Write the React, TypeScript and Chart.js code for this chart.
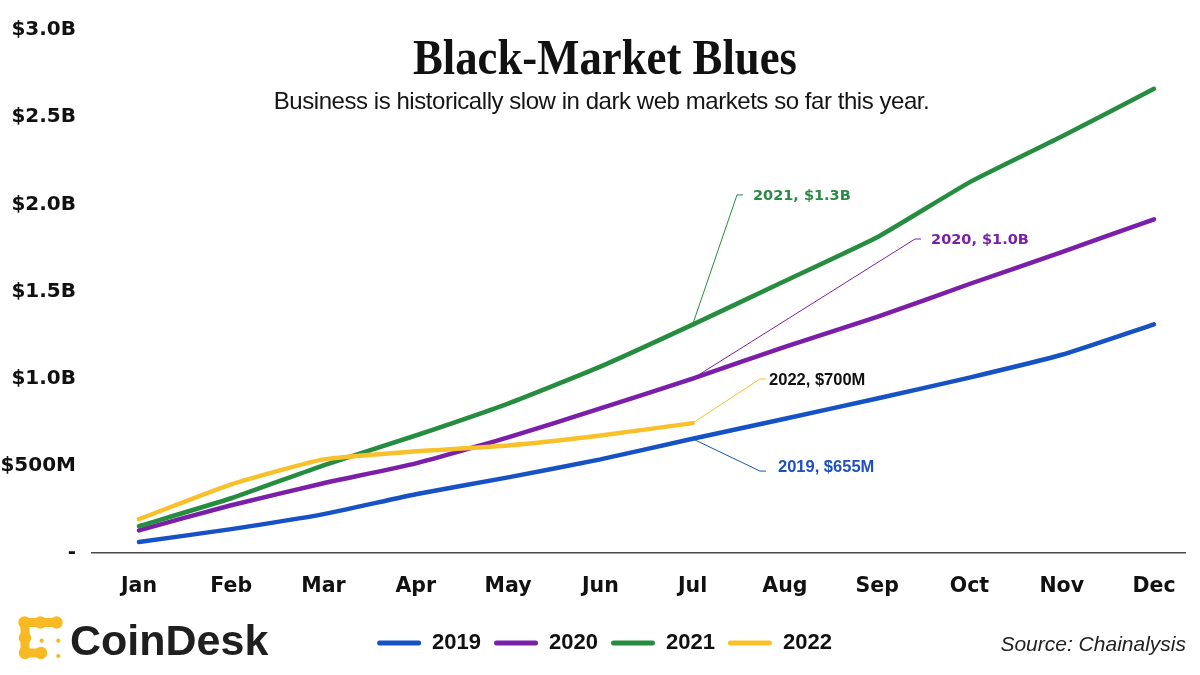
import React, { useEffect, useRef } from "react";
import { Chart, registerables } from "chart.js";

Chart.register(...registerables);

// ---- data ----
const MONTHS = ["Jan", "Feb", "Mar", "Apr", "May", "Jun", "Jul", "Aug", "Sep", "Oct", "Nov", "Dec"];
const YEARS = ["2019", "2020", "2021", "2022"];
// dark-web market revenue, cumulative, in $ billions
const REV_2019 = [0.063, 0.137, 0.223, 0.337, 0.434, 0.537, 0.655, 0.77, 0.886, 1.006, 1.137, 1.312];
const REV_2020 = [0.13, 0.274, 0.4, 0.514, 0.663, 0.829, 1.0, 1.183, 1.354, 1.543, 1.726, 1.914];
const REV_2021 = [0.154, 0.314, 0.503, 0.674, 0.857, 1.069, 1.31, 1.56, 1.811, 2.126, 2.389, 2.663];
const REV_2022 = [0.194, 0.394, 0.537, 0.583, 0.617, 0.674, 0.745];
const SERIES = [REV_2019, REV_2020, REV_2021, REV_2022];
const Y_TICK_VALUES = [0, 0.5, 1.0, 1.5, 2.0, 2.5, 3.0];
const Y_TICK_LABELS = ["-", "$500M", "$1.0B", "$1.5B", "$2.0B", "$2.5B", "$3.0B"];
const CALLOUT_TEXTS = ["2019, $655M", "2020, $1.0B", "2021, $1.3B", "2022, $700M"];

// ---- styles ----
const COLORS = ["#1652c4", "#7b1fa8", "#268c3f", "#f8c12c"];
const CALLOUT_TEXT_COLORS = ["#1d4fc0", "#7a1fa8", "#2a8a45", "#111111"];
const CALLOUT_FONTS = [
  "bold 16.5px 'Liberation Sans', Arial, sans-serif",
  "bold 14.5px 'DejaVu Sans', sans-serif",
  "bold 14.5px 'DejaVu Sans', sans-serif",
  "bold 16.5px 'Liberation Sans', Arial, sans-serif",
];
// callout geometry in data coordinates (x = month index, y = $B)
const CALLOUTS = [
  { series: 0, index: 6, elbowX: 6.73, elbowY: 0.47, textX: 6.925, textY: 0.488 },
  { series: 1, index: 6, elbowX: 8.41, elbowY: 1.801, textX: 8.584, textY: 1.795 },
  { series: 2, index: 6, elbowX: 6.481, elbowY: 2.054, textX: 6.654, textY: 2.048 },
  { series: 3, index: 6, elbowX: 6.73, elbowY: 0.998, textX: 6.828, textY: 0.992 },
];

const calloutPlugin = {
  id: "callouts",
  afterLayout(chart: any) {
    // nudge the legend row slightly right, as in the source graphic
    if (chart.legend) chart.legend.left += 24;
  },
  afterDatasetsDraw(chart: any) {
    const { ctx } = chart;
    const xs = chart.scales.x;
    const ys = chart.scales.y;
    CALLOUTS.forEach((c) => {
      const px = xs.getPixelForValue(c.index);
      const py = ys.getPixelForValue(SERIES[c.series][c.index]);
      const ex = xs.getPixelForValue(c.elbowX);
      const ey = ys.getPixelForValue(c.elbowY);
      const tx = xs.getPixelForValue(c.textX);
      const ty = ys.getPixelForValue(c.textY);
      ctx.save();
      ctx.strokeStyle = COLORS[c.series];
      ctx.lineWidth = 1;
      ctx.beginPath();
      ctx.moveTo(px, py);
      ctx.lineTo(ex, ey);
      ctx.lineTo(ex + 6, ey);
      ctx.stroke();
      ctx.font = CALLOUT_FONTS[c.series];
      ctx.fillStyle = CALLOUT_TEXT_COLORS[c.series];
      ctx.textBaseline = "middle";
      ctx.textAlign = "left";
      ctx.fillText(CALLOUT_TEXTS[c.series], tx, ty);
      ctx.restore();
    });
  },
};

function CoinDeskIcon() {
  const c = "#f7b924";
  const r = 6.2;
  return (
    <svg
      width={70}
      height={62}
      viewBox="10 610 70 62"
      style={{ position: "absolute", left: 10, top: 610 }}
    >
      <g fill={c}>
        <circle cx={24.5} cy={622.5} r={r} />
        <circle cx={40.5} cy={622.5} r={r} />
        <circle cx={56.5} cy={622.5} r={r} />
        <rect x={24.5} y={618} width={32} height={9} />
        <circle cx={25} cy={638} r={r} />
        <rect x={20.5} y={622.5} width={9} height={30} />
        <circle cx={25} cy={653} r={r} />
        <circle cx={41} cy={653} r={r} />
        <rect x={25} y={648.5} width={16} height={9} />
        <circle cx={41.7} cy={640.7} r={2.1} />
        <circle cx={58.3} cy={640.7} r={2.1} />
        <circle cx={58.3} cy={656} r={2.1} />
      </g>
    </svg>
  );
}

export default function App() {
  const canvasRef = useRef<HTMLCanvasElement | null>(null);

  useEffect(() => {
    if (!canvasRef.current) return;
    const chart = new Chart(canvasRef.current, {
      type: "line",
      data: {
        datasets: YEARS.map((year, i) => ({
          label: year,
          data: SERIES[i].map((v, j) => ({ x: j, y: v })),
          borderColor: COLORS[i],
          backgroundColor: COLORS[i],
          borderWidth: 4.5,
          pointRadius: 0,
          pointHoverRadius: 0,
          tension: 0.15,
          borderCapStyle: "round",
          borderJoinStyle: "round",
          order: YEARS.length - 1 - i,
          fill: false,
        })),
      },
      options: {
        animation: false,
        responsive: true,
        maintainAspectRatio: false,
        events: [],
        layout: { padding: { top: 30, left: 0, right: 15, bottom: 11 } },
        plugins: {
          tooltip: { enabled: false },
          title: { display: false },
          legend: {
            display: true,
            position: "bottom",
            align: "center",
            labels: {
              boxWidth: 44,
              boxHeight: 5,
              padding: 13,
              useBorderRadius: true,
              borderRadius: 2.5,
              color: "#111",
              font: { family: "'Liberation Sans', Arial, sans-serif", size: 22, weight: "bold" },
              generateLabels: (ch: any) =>
                ch.data.datasets.map((ds: any, i: number) => ({
                  text: ds.label,
                  fillStyle: ds.borderColor,
                  strokeStyle: ds.borderColor,
                  lineWidth: 0,
                  hidden: false,
                  datasetIndex: i,
                  borderRadius: 2.5,
                  fontColor: "#111",
                })),
            },
          },
        },
        scales: {
          x: {
            type: "linear",
            min: -0.509,
            max: 11.336,
            grid: { display: false, drawTicks: false },
            border: { display: true, color: "#4a4a4a", width: 1.5 },
            afterBuildTicks: (scale: any) => {
              scale.ticks = MONTHS.map((_, i) => ({ value: i }));
            },
            afterFit: (scale: any) => {
              scale.height = 66;
            },
            ticks: {
              autoSkip: false,
              maxRotation: 0,
              padding: 21,
              color: "#111",
              font: { family: "'DejaVu Sans', sans-serif", size: 20.5, weight: "bold" },
              callback: (v: any) => MONTHS[Math.round(Number(v))] ?? "",
            },
          },
          y: {
            type: "linear",
            min: 0,
            max: 3,
            grid: { display: false, drawTicks: false },
            border: { display: false },
            afterBuildTicks: (scale: any) => {
              scale.ticks = Y_TICK_VALUES.map((v) => ({ value: v }));
            },
            afterFit: (scale: any) => {
              scale.width = 92;
            },
            ticks: {
              padding: 16,
              color: "#111",
              font: { family: "'DejaVu Sans', sans-serif", size: 20, weight: "bold" },
              callback: (v: any) => {
                const k = Y_TICK_VALUES.findIndex((t) => Math.abs(t - Number(v)) < 1e-6);
                return k >= 0 ? Y_TICK_LABELS[k] : "";
              },
            },
          },
        },
      },
      plugins: [calloutPlugin],
    } as any);
    return () => chart.destroy();
  }, []);

  return (
    <div
      style={{
        position: "absolute",
        left: 0,
        top: 0,
        width: 1200,
        height: 675,
        background: "#ffffff",
        overflow: "hidden",
      }}
    >
      <canvas ref={canvasRef} style={{ position: "absolute", left: 0, top: 0 }} />
      <div
        style={{
          position: "absolute",
          left: 305,
          top: 32,
          width: 600,
          textAlign: "center",
          fontFamily: "'Liberation Serif', 'Times New Roman', serif",
          fontWeight: "bold",
          fontSize: 50,
          lineHeight: "50px",
          color: "#111",
          transform: "scaleX(0.895)",
          transformOrigin: "center",
          whiteSpace: "nowrap",
        }}
      >
        Black-Market Blues
      </div>
      <div
        style={{
          position: "absolute",
          left: 201.5,
          top: 88.7,
          width: 800,
          textAlign: "center",
          fontFamily: "'Liberation Sans', Arial, sans-serif",
          fontSize: 24,
          lineHeight: "24px",
          letterSpacing: "-0.45px",
          color: "#151515",
          whiteSpace: "nowrap",
        }}
      >
        Business is historically slow in dark web markets so far this year.
      </div>
      <CoinDeskIcon />
      <div
        style={{
          position: "absolute",
          left: 70,
          top: 618.6,
          fontFamily: "'Liberation Sans', Arial, sans-serif",
          fontWeight: "bold",
          fontSize: 43,
          lineHeight: "43px",
          color: "#1f1f1f",
          whiteSpace: "nowrap",
        }}
      >
        CoinDesk
      </div>
      <div
        style={{
          position: "absolute",
          right: 14,
          top: 633,
          fontFamily: "'Liberation Sans', Arial, sans-serif",
          fontStyle: "italic",
          fontSize: 21,
          lineHeight: "21px",
          color: "#222",
          whiteSpace: "nowrap",
        }}
      >
        Source: Chainalysis
      </div>
    </div>
  );
}
